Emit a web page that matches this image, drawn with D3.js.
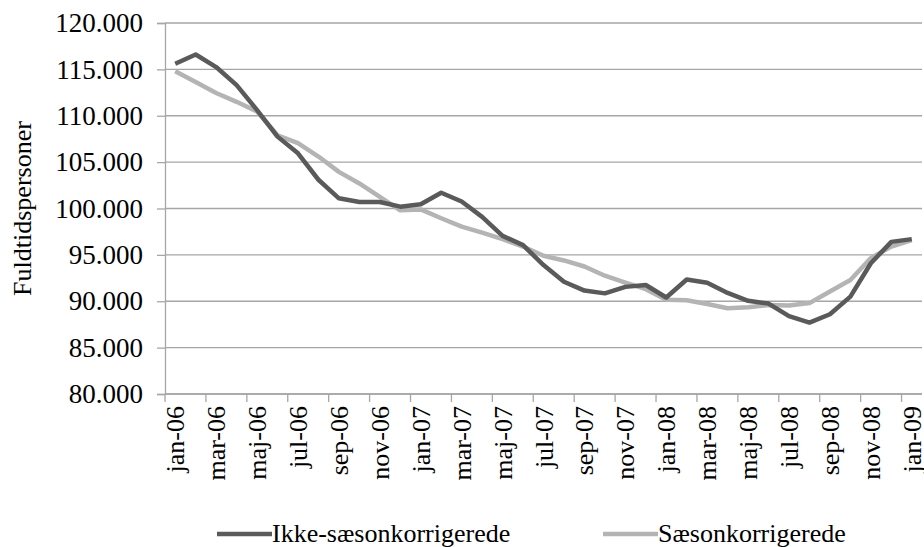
<!DOCTYPE html>
<html>
<head>
<meta charset="utf-8">
<script src="https://cdn.jsdelivr.net/npm/d3@7"></script>
<style>
  body { margin: 0; background: #fff; }
</style>
</head>
<body>
<div id="vis"></div>
<script>
var months = ["jan-06","feb-06","mar-06","apr-06","maj-06","jun-06","jul-06","aug-06","sep-06","okt-06","nov-06","dec-06",
  "jan-07","feb-07","mar-07","apr-07","maj-07","jun-07","jul-07","aug-07","sep-07","okt-07","nov-07","dec-07",
  "jan-08","feb-08","mar-08","apr-08","maj-08","jun-08","jul-08","aug-08","sep-08","okt-08","nov-08","dec-08","jan-09"];

var ikke = [115600,116600,115250,113300,110600,107750,105950,103100,101100,100700,100700,100200,
  100450,101700,100750,99100,97050,96050,93900,92100,91150,90850,91550,91750,
  90400,92350,92000,90900,90050,89750,88400,87700,88600,90500,94100,96400,96700];

var saeson = [114800,113650,112450,111500,110450,107900,107050,105600,103950,102700,101250,99800,
  99900,98950,98050,97400,96700,95900,94900,94400,93750,92750,92000,91300,
  90150,90100,89700,89250,89350,89600,89550,89800,91050,92300,94650,95900,96600];

var yTicks = [80000,85000,90000,95000,100000,105000,110000,115000,120000];

var series = [
  {name: "Ikke-sæsonkorrigerede", values: ikke, color: "#5a5a5a"},
  {name: "Sæsonkorrigerede", values: saeson, color: "#b4b4b4"}
];

var W = 924, H = 547;
var mLeft = 165, mRight = 922, mTop = 23, mBottom = 394;
var serif = "'Liberation Serif'";

var svg = d3.select('#vis').append('svg').attr('width', W).attr('height', H);

var x = d3.scaleBand().domain(months).range([mLeft, mRight]);
var y = d3.scaleLinear().domain([80000, 120000]).range([mBottom, mTop]);

var fmt = function(v) { return d3.format(",")(v).replace(/,/g, "."); };

// gridlines
svg.selectAll('line.grid')
  .data(yTicks).enter().append('line')
  .attr('class', 'grid')
  .attr('x1', mLeft).attr('x2', mRight)
  .attr('y1', function(d) { return y(d); })
  .attr('y2', function(d) { return y(d); })
  .attr('stroke', '#a6a6a6').attr('stroke-width', 1.3);

// y axis
var yAxis = svg.append('g')
  .attr('transform', 'translate(' + mLeft + ',0)')
  .call(d3.axisLeft(y).tickValues(yTicks).tickSize(8).tickPadding(14).tickFormat(fmt));
yAxis.selectAll('text').attr('fill', '#000')
  .style('font-family', serif).style('font-size', '27px');
yAxis.selectAll('line, path').attr('stroke', '#a6a6a6').attr('stroke-width', 1.3);

// x axis: ticks between every second category
var tickCats = months.filter(function(d, i) { return i % 2 === 0; });
var xAxis = svg.append('g').attr('transform', 'translate(0,' + mBottom + ')');
xAxis.append('line').attr('x1', mLeft).attr('x2', mRight)
  .attr('stroke', '#a6a6a6').attr('stroke-width', 1.3);
xAxis.selectAll('line.tk')
  .data(tickCats).enter().append('line')
  .attr('class', 'tk')
  .attr('x1', function(d) { return x(d); })
  .attr('x2', function(d) { return x(d); })
  .attr('y1', 0).attr('y2', 8)
  .attr('stroke', '#a6a6a6').attr('stroke-width', 1.3);
xAxis.selectAll('text')
  .data(tickCats).enter().append('text')
  .attr('transform', function(d) {
    return 'translate(' + (x(d) + x.bandwidth() / 2 + 9) + ',12) rotate(-90)';
  })
  .attr('text-anchor', 'end')
  .style('font-family', serif).style('font-size', '26px')
  .text(function(d) { return d; });

// y title
svg.append('text')
  .attr('transform', 'translate(31,' + ((mTop + mBottom) / 2) + ') rotate(-90)')
  .attr('text-anchor', 'middle')
  .style('font-family', serif).style('font-size', '26px')
  .text('Fuldtidspersoner');

// lines
var line = d3.line()
  .x(function(d, i) { return x(months[i]) + x.bandwidth() / 2; })
  .y(function(d) { return y(d); });

svg.selectAll('path.series')
  .data(series.slice().reverse()).enter().append('path')
  .attr('class', 'series')
  .attr('d', function(d) { return line(d.values); })
  .attr('fill', 'none')
  .attr('stroke', function(d) { return d.color; })
  .attr('stroke-width', 4.5)
  .attr('stroke-linejoin', 'round');

// legend
var legX = [217, 603];
var leg = svg.selectAll('g.leg')
  .data(series).enter().append('g')
  .attr('class', 'leg')
  .attr('transform', function(d, i) { return 'translate(' + legX[i] + ',534)'; });
leg.append('line').attr('x1', 0).attr('x2', 55)
  .attr('stroke', function(d) { return d.color; })
  .attr('stroke-width', 4.5);
leg.append('text').attr('x', 55).attr('y', 8)
  .style('font-family', serif).style('font-size', '26px')
  .text(function(d) { return d.name; });
</script>
</body>
</html>
